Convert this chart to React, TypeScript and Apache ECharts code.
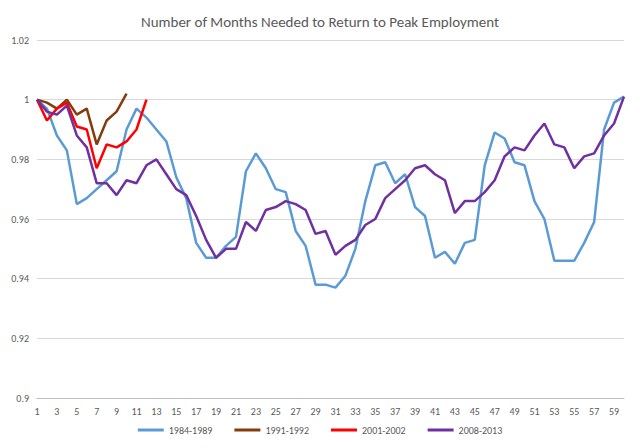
import React, { useEffect, useRef } from "react";
import * as echarts from "echarts";

const months = Array.from({ length: 60 }, (_, i) => String(i + 1));
const s1984 = [1.0,0.997,0.988,0.983,0.965,0.967,0.970,0.973,0.976,0.990,0.997,0.994,0.990,0.986,0.974,0.967,0.952,0.947,0.947,0.951,0.954,0.976,0.982,0.977,0.970,0.969,0.956,0.951,0.938,0.938,0.937,0.941,0.950,0.966,0.978,0.979,0.972,0.975,0.964,0.961,0.947,0.949,0.945,0.952,0.953,0.978,0.989,0.987,0.979,0.978,0.966,0.960,0.946,0.946,0.946,0.952,0.959,0.990,0.999,1.001];
const s1991 = [1.0,0.999,0.997,1.0,0.995,0.997,0.985,0.993,0.996,1.002];
const s2001 = [1.0,0.993,0.997,0.999,0.991,0.990,0.977,0.985,0.984,0.986,0.990,1.0];
const s2008 = [1.0,0.996,0.995,0.998,0.988,0.984,0.972,0.972,0.968,0.973,0.972,0.978,0.980,0.975,0.970,0.968,0.961,0.953,0.947,0.950,0.950,0.959,0.956,0.963,0.964,0.966,0.965,0.963,0.955,0.956,0.948,0.951,0.953,0.958,0.960,0.967,0.970,0.973,0.977,0.978,0.975,0.973,0.962,0.966,0.966,0.969,0.973,0.981,0.984,0.983,0.988,0.992,0.985,0.984,0.977,0.981,0.982,0.988,0.992,1.001];

const names = ["1984-1989", "1991-1992", "2001-2002", "2008-2013"];
const colors = ["#5B9BD5", "#843C0C", "#FF0000", "#7030A0"];

export default function App() {
  const ref = useRef<HTMLDivElement>(null);
  useEffect(() => {
    const chart = echarts.init(ref.current!, null, { renderer: "svg" });
    const data = [s1984, s1991, s2001, s2008];
    chart.setOption({
      animation: false,
      textStyle: { fontFamily: "Calibri, Carlito, 'Liberation Sans', sans-serif" },
      title: { text: "Number of Months Needed to Return to Peak Employment", left: "center", top: 1,
        textStyle: { fontSize: 15, fontWeight: "normal", color: "#595959" } },
      legend: { bottom: 0, itemWidth: 26, itemHeight: 3, icon: "rect", itemGap: 22,
        textStyle: { fontSize: 10, color: "#595959" } },
      grid: { left: 29, right: 8, top: 32, bottom: 42 },
      xAxis: { type: "category", data: months, boundaryGap: false,
        axisLine: { lineStyle: { color: "#bfbfbf" } }, axisTick: { show: false },
        axisLabel: { interval: 1, fontSize: 10, color: "#595959" } },
      yAxis: { type: "value", min: 0.9, max: 1.02, interval: 0.02,
        axisLabel: { fontSize: 10, color: "#595959", formatter: (v: number) => String(+v.toFixed(2)) },
        splitLine: { lineStyle: { color: "#d9d9d9" } } },
      series: data.map((d, i) => ({ name: names[i], type: "line", data: d, showSymbol: false,
        lineStyle: { width: 2.5, color: colors[i] }, itemStyle: { color: colors[i] } })),
    });
    return () => chart.dispose();
  }, []);
  return <div ref={ref} style={{ width: 624, height: 432 }} />;
}
